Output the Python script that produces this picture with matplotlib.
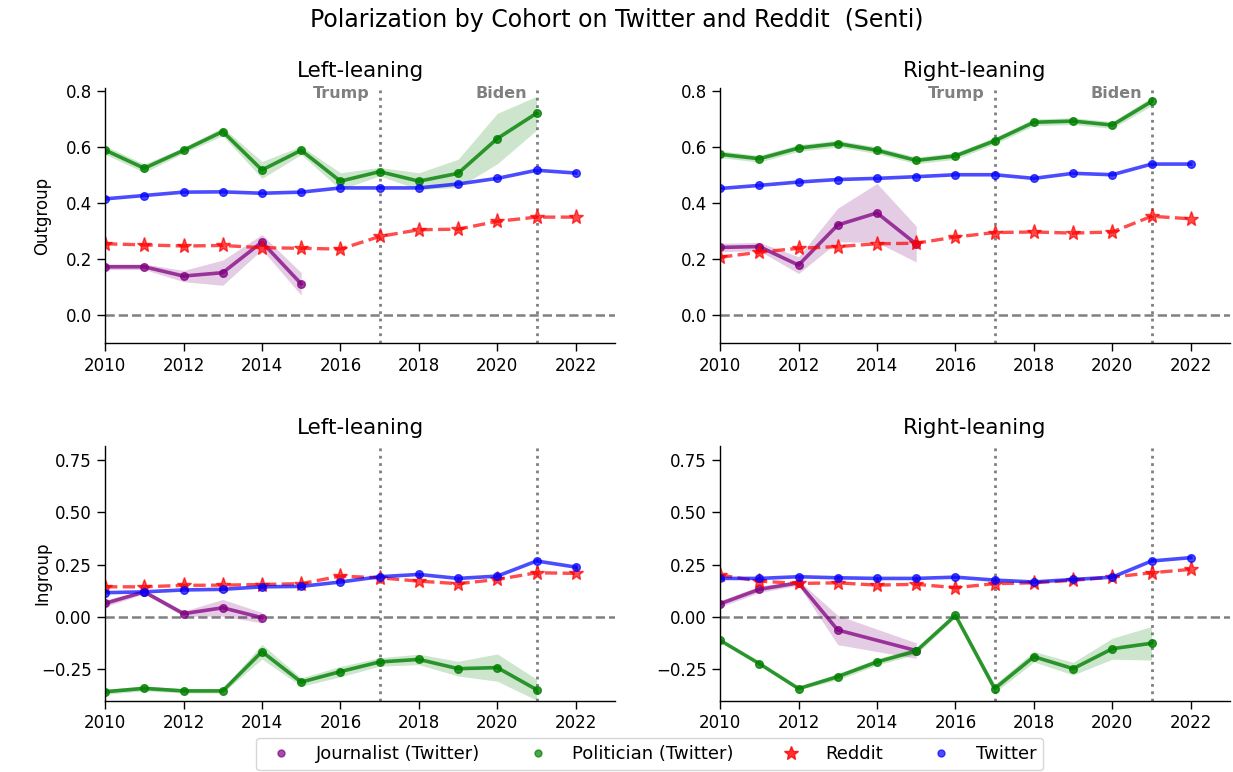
import matplotlib
matplotlib.use('Agg')
import matplotlib.pyplot as plt
from matplotlib.lines import Line2D
import numpy as np

# years
years = list(range(2010, 2023))
years_pol = list(range(2010, 2022))
years_jour = list(range(2010, 2016))
years_jour_ll_in = list(range(2010, 2015))
years_jour_rl_in = [2010, 2011, 2012, 2013, 2015]

# Outgroup, left-leaning
og_left_twitter = [0.415, 0.427, 0.439, 0.440, 0.435, 0.439, 0.454, 0.454, 0.454, 0.468, 0.488, 0.517, 0.507]
og_left_reddit = [0.255, 0.251, 0.247, 0.249, 0.241, 0.239, 0.236, 0.281, 0.305, 0.307, 0.335, 0.350, 0.350]
og_left_pol = [0.589, 0.524, 0.588, 0.655, 0.518, 0.588, 0.478, 0.512, 0.478, 0.506, 0.630, 0.720]
og_left_pol_err = [0.015, 0.015, 0.010, 0.015, 0.030, 0.015, 0.030, 0.015, 0.030, 0.050, 0.090, 0.060]
og_left_jour = [0.173, 0.173, 0.140, 0.152, 0.261, 0.112]
og_left_jour_err = [0.010, 0.010, 0.020, 0.045, 0.027, 0.040]

# Outgroup, right-leaning
og_right_twitter = [0.452, 0.463, 0.475, 0.484, 0.488, 0.494, 0.501, 0.501, 0.488, 0.506, 0.501, 0.539, 0.539]
og_right_reddit = [0.207, 0.225, 0.239, 0.245, 0.255, 0.257, 0.279, 0.295, 0.297, 0.293, 0.297, 0.353, 0.344]
og_right_pol = [0.574, 0.558, 0.596, 0.612, 0.588, 0.552, 0.568, 0.622, 0.688, 0.692, 0.678, 0.762]
og_right_pol_err = [0.012, 0.012, 0.012, 0.012, 0.012, 0.012, 0.012, 0.012, 0.012, 0.012, 0.012, 0.015]
og_right_jour = [0.242, 0.245, 0.179, 0.322, 0.365, 0.254]
og_right_jour_err = [0.015, 0.015, 0.030, 0.060, 0.105, 0.064]

# Ingroup, left-leaning
ig_left_twitter = [0.116, 0.120, 0.129, 0.132, 0.144, 0.146, 0.167, 0.192, 0.203, 0.184, 0.195, 0.267, 0.238]
ig_left_reddit = [0.144, 0.144, 0.151, 0.152, 0.155, 0.159, 0.195, 0.187, 0.171, 0.159, 0.179, 0.211, 0.208]
ig_left_pol = [-0.356, -0.340, -0.352, -0.352, -0.165, -0.310, -0.260, -0.214, -0.202, -0.246, -0.241, -0.346]
ig_left_pol_err = [0.012, 0.012, 0.010, 0.010, 0.035, 0.020, 0.025, 0.020, 0.025, 0.035, 0.065, 0.050]
ig_left_jour = [0.065, 0.120, 0.016, 0.044, -0.003]
ig_left_jour_err = [0.015, 0.010, 0.012, 0.040, 0.025]

# Ingroup, right-leaning
ig_right_twitter = [0.184, 0.184, 0.192, 0.187, 0.184, 0.184, 0.190, 0.176, 0.167, 0.179, 0.190, 0.267, 0.283]
ig_right_reddit = [0.200, 0.171, 0.160, 0.163, 0.152, 0.156, 0.140, 0.159, 0.163, 0.175, 0.190, 0.211, 0.227]
ig_right_pol = [-0.111, -0.222, -0.341, -0.284, -0.214, -0.162, 0.008, -0.341, -0.189, -0.246, -0.151, -0.125]
ig_right_pol_err = [0.005, 0.005, 0.006, 0.015, 0.015, 0.015, 0.010, 0.020, 0.025, 0.030, 0.050, 0.080]
ig_right_jour = [0.063, 0.132, 0.163, -0.062, -0.160]
ig_right_jour_err = [0.015, 0.015, 0.012, 0.070, 0.037]

panels = [
    ('Left-leaning', 'Outgroup', og_left_twitter, og_left_reddit, og_left_pol, og_left_pol_err,
     years_jour, og_left_jour, og_left_jour_err),
    ('Right-leaning', None, og_right_twitter, og_right_reddit, og_right_pol, og_right_pol_err,
     years_jour, og_right_jour, og_right_jour_err),
    ('Left-leaning', 'Ingroup', ig_left_twitter, ig_left_reddit, ig_left_pol, ig_left_pol_err,
     years_jour_ll_in, ig_left_jour, ig_left_jour_err),
    ('Right-leaning', None, ig_right_twitter, ig_right_reddit, ig_right_pol, ig_right_pol_err,
     years_jour_rl_in, ig_right_jour, ig_right_jour_err),
]

events = [(2017, 'Trump'), (2021, 'Biden')]

fig, axes = plt.subplots(2, 2, figsize=(12.33, 7.72), dpi=100)
plt.subplots_adjust(left=0.0852, right=0.9976, top=0.886, bottom=0.092, wspace=0.206, hspace=0.40)

for i, (ax, p) in enumerate(zip(axes.flat, panels)):
    title, ylabel, tw, rd, pol, pol_err, jyears, jour, jour_err = p
    pol = np.array(pol)
    pol_err = np.array(pol_err)
    jour = np.array(jour)
    jour_err = np.array(jour_err)

    ax.axhline(0, color='gray', linestyle='--', linewidth=1.8, zorder=1)
    for yr, name in events:
        ax.axvline(yr, color='gray', linestyle=':', linewidth=2.0, zorder=1)

    # journalist
    ax.fill_between(jyears, jour - jour_err, jour + jour_err, color='purple', alpha=0.2, linewidth=0)
    ax.plot(jyears, jour, color='purple', marker='o', markersize=5.5, linewidth=2.6, alpha=0.75)
    # politician
    ax.fill_between(years_pol, pol - pol_err, pol + pol_err, color='green', alpha=0.2, linewidth=0)
    ax.plot(years_pol, pol, color='green', marker='o', markersize=5.5, linewidth=2.6, alpha=0.8)
    # reddit
    ax.plot(years, rd, color='red', marker='*', markersize=11, linestyle='--', linewidth=2.4, alpha=0.7)
    # twitter
    ax.plot(years, tw, color='blue', marker='o', markersize=5.5, linewidth=2.6, alpha=0.7)

    ax.set_xlim(2010, 2023)
    ax.set_xticks(range(2010, 2023, 2))
    if i < 2:
        ax.set_ylim(-0.1, 0.81)
        ax.set_yticks([0.0, 0.2, 0.4, 0.6, 0.8])
        for yr, name in events:
            ax.text(yr - 0.25, 0.792, name, ha='right', va='center', color='gray',
                    fontsize=11.5, fontweight='bold')
    else:
        ax.set_ylim(-0.4, 0.817)
        ax.set_yticks([-0.25, 0.0, 0.25, 0.5, 0.75])
    ax.set_title(title, fontsize=15.5, pad=8)
    if ylabel:
        ax.set_ylabel(ylabel, fontsize=12)
        ax.yaxis.set_label_coords(-0.105, 0.5)
    ax.spines['top'].set_visible(False)
    ax.spines['right'].set_visible(False)
    ax.spines['left'].set_linewidth(1.0)
    ax.spines['bottom'].set_linewidth(1.0)
    ax.tick_params(labelsize=12, length=6, width=1.0)

fig.suptitle('Polarization by Cohort on Twitter and Reddit  (Senti)', fontsize=17, y=0.99)

handles = [
    Line2D([], [], color='purple', marker='o', linestyle='none', markersize=5, alpha=0.7),
    Line2D([], [], color='green', marker='o', linestyle='none', markersize=5, alpha=0.7),
    Line2D([], [], color='red', marker='*', linestyle='none', markersize=10, alpha=0.8),
    Line2D([], [], color='blue', marker='o', linestyle='none', markersize=5, alpha=0.7),
]
labels = ['Journalist (Twitter)', 'Politician (Twitter)', 'Reddit', 'Twitter']
fig.legend(handles, labels, loc='lower center', bbox_to_anchor=(0.527, 0.0), ncol=4,
           fontsize=13, columnspacing=2.2, handletextpad=0.9, borderaxespad=0.1)

plt.savefig('out.png', dpi=100)
